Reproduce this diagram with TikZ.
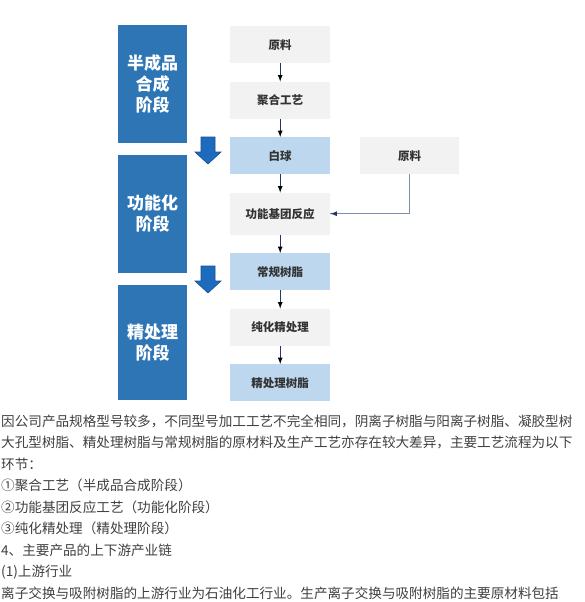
\documentclass[tikz,border=0pt]{standalone}
\usepackage{fontspec}
\newfontfamily\cjk{Noto Sans CJK SC}
\usepackage{tikz}
\usetikzlibrary{matrix,arrows}

\definecolor{stageblue}{HTML}{2E75B6}
\definecolor{paleblue}{HTML}{BDD7EE}
\definecolor{boxgrey}{HTML}{F2F2F2}
\definecolor{navy}{HTML}{1F3864}
\definecolor{feedgrey}{HTML}{7F8BAA}
\definecolor{arrowblue}{HTML}{1C6BBF}
\definecolor{arrowedge}{HTML}{1A4F8A}

\tikzset{
  stepbox/.style={minimum width=100pt, minimum height=37pt, inner sep=0pt, text=black!80,
    font=\cjk\bfseries\fontsize{11.5}{14}\selectfont},
  greybox/.style={stepbox, fill=boxgrey},
  palebox/.style={stepbox, fill=paleblue},
  stage/.style={fill=stageblue, text=white, minimum width=69pt, align=center,
    font=\cjk\bfseries\fontsize{17}{21}\selectfont},
  flowarrow/.style={draw=navy, line width=1.2pt, -latex},
  feedline/.style={draw=feedgrey, line width=1.3pt},
  para/.style={anchor=base west, inner sep=0pt, text=black!75,
    font=\cjk\fontsize{13.6}{16}\selectfont},
}

\begin{document}
\begin{tikzpicture}[x=1pt, y=-1pt]
  \useasboundingbox[fill=white] (0,0) rectangle (584,602);

  % stages
  \node[stage, minimum height=118pt] (semi) at (152.5,84) {半成品\\合成\\阶段};
  \node[stage, minimum height=118pt] (func) at (152.5,214) {功能化\\阶段};
  \node[stage, minimum height=115pt] (fine) at (152.5,342.5) {精处理\\阶段};
  \foreach \y in {137,266}
    \filldraw[fill=arrowblue, draw=arrowedge, line width=0.6pt]
      (201,\y) -- (215,\y) -- (215,\y+15) -- (221,\y+15) -- (208,\y+27)
      -- (195,\y+15) -- (201,\y+15) -- cycle;

  % process
  \matrix (flow) [matrix of nodes, row sep=18.5pt, column sep=30pt, inner sep=0pt,
    anchor=north west] at (230,26)
  {
    |[greybox]| 原料 \\
    |[greybox]| 聚合工艺 \\
    |[palebox]| 白球 & |[greybox, minimum width=99pt]| 原料 \\
    |[greybox, minimum height=42pt]| 功能基团反应 \\
    |[palebox]| 常规树脂 \\
    |[greybox]| 纯化精处理 \\
    |[palebox]| 精处理树脂 \\
  };
  \path[flowarrow]
  (flow-1-1) edge (flow-2-1)
  (flow-2-1) edge (flow-3-1)
  (flow-3-1) edge (flow-4-1)
  (flow-4-1) edge (flow-5-1)
  (flow-5-1) edge (flow-6-1)
  (flow-6-1) edge (flow-7-1)
  ;
  \draw[feedline] (flow-3-2.south) |- (flow-4-1.east);
  \draw[flowarrow] ([xshift=6pt]flow-4-1.east) -- (flow-4-1.east);

  % text below
  \foreach \t [count=\i] in {
    {因公司产品规格型号较多，不同型号加工工艺不完全相同，阴离子树脂与阳离子树脂、凝胶型树},
    {大孔型树脂、精处理树脂与常规树脂的原材料及生产工艺亦存在较大差异，主要工艺流程为以下},
    {环节：},
    {①聚合工艺（半成品合成阶段）},
    {②功能基团反应工艺（功能化阶段）},
    {③纯化精处理（精处理阶段）},
    {4、主要产品的上下游产业链},
    {(1)上游行业},
    {离子交换与吸附树脂的上游行业为石油化工行业。生产离子交换与吸附树脂的主要原材料包括}}
    \node[para] (t\i) at (1, 404.5+21.5*\i) {\t};
\end{tikzpicture}
\end{document}
